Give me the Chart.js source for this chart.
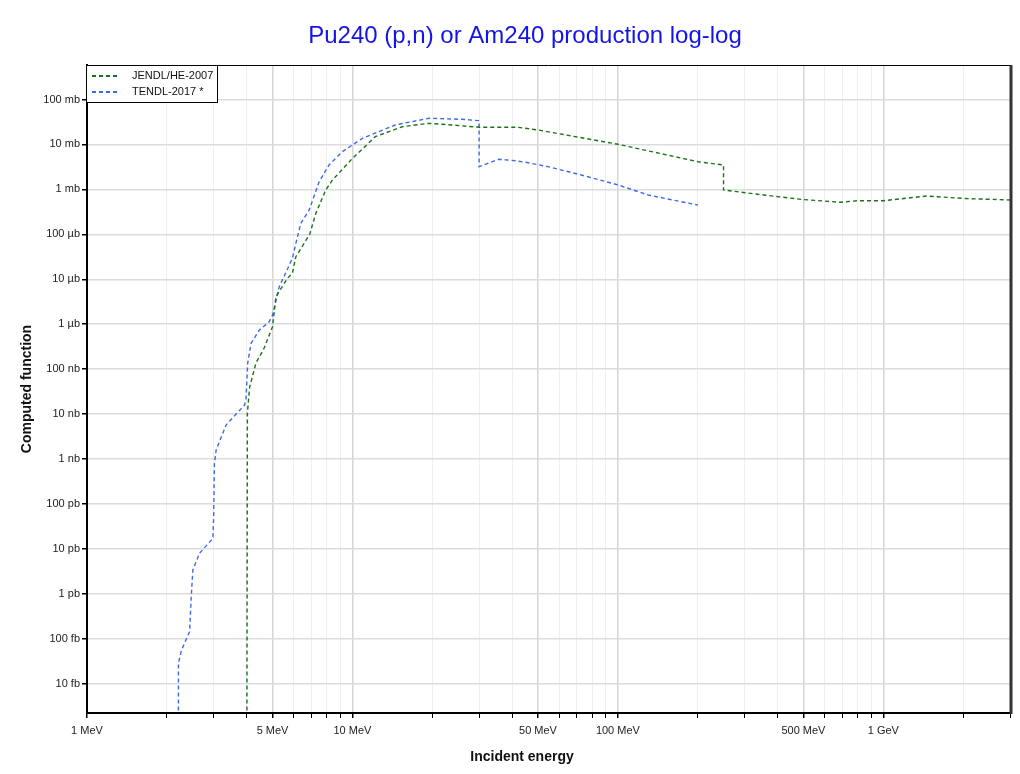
<!DOCTYPE html>
<html>
<head>
<meta charset="utf-8">
<script src="https://cdn.jsdelivr.net/npm/chart.js@4.4.1/dist/chart.umd.min.js"></script>
<style>
  html, body { margin: 0; padding: 0; background: #fff; }
  #chart { display: block; }
</style>
</head>
<body>
<canvas id="chart" width="1020" height="774"></canvas>
<script>
// energies in MeV, cross sections in mb
const jendlEnergy = [4.0, 4.02, 4.1, 4.33, 4.65, 5.0, 5.15, 5.69, 5.94, 6.12, 6.9, 7.28, 7.93, 8.4, 10, 12.2, 15.4, 19.4, 23.7, 30, 42, 50, 100, 200, 250, 250, 355, 490, 690, 800, 1000, 1450, 2000, 3000];
const jendlXs = [1e-13, 1.06e-5, 4.0e-5, 1.37e-4, 2.95e-4, 8.8e-4, 4.1e-3, 0.0105, 0.0136, 0.0318, 0.1, 0.294, 0.97, 1.6, 4.9, 14.9, 24.8, 29.5, 27.1, 24.1, 24.1, 21, 10.1, 4.13, 3.49, 0.97, 0.75, 0.60, 0.516, 0.56, 0.56, 0.71, 0.63, 0.58];

const tendlEnergy = [2.21, 2.21, 2.27, 2.435, 2.47, 2.505, 2.655, 2.98, 3.0, 3.02, 3.066, 3.34, 3.92, 3.97, 4.03, 4.15, 4.46, 4.86, 5.0, 5.3, 5.94, 6.12, 6.39, 6.87, 7.49, 8.16, 9.16, 10.9, 14.5, 19.4, 25.8, 30, 30, 35.5, 41, 45.9, 54.6, 72.8, 100, 130, 200];
const tendlXs = [1e-13, 2.85e-11, 5.6e-11, 1.44e-10, 8.6e-10, 3.4e-9, 8.0e-9, 1.72e-8, 5.2e-8, 8.0e-7, 1.59e-6, 5.7e-6, 1.59e-5, 2.06e-5, 1.35e-4, 3.76e-4, 7.4e-4, 1.14e-3, 1.6e-3, 6.8e-3, 0.0292, 0.063, 0.176, 0.348, 1.48, 3.49, 6.9, 13.7, 27.1, 38.2, 36.3, 33.8, 3.2, 4.67, 4.35, 3.92, 3.2, 2.09, 1.26, 0.75, 0.449];

const xTickValues = [1, 5, 10, 50, 100, 500, 1000];
const xTickLabels = ['1 MeV', '5 MeV', '10 MeV', '50 MeV', '100 MeV', '500 MeV', '1 GeV'];
const yTickValues = [1e-11, 1e-10, 1e-9, 1e-8, 1e-7, 1e-6, 1e-5, 1e-4, 1e-3, 1e-2, 1e-1, 1, 10, 100];
const yTickLabels = ['10 fb', '100 fb', '1 pb', '10 pb', '100 pb', '1 nb', '10 nb', '100 nb', '1 µb', '10 µb', '100 µb', '1 mb', '10 mb', '100 mb'];

const chartTitle = 'Pu240 (p,n) or Am240 production log-log';
const xTitle = 'Incident energy';
const yTitle = 'Computed function';

const FONT = 'Liberation Sans, Arial, sans-serif';
const toPoints = (xs, ys) => xs.map((x, i) => ({x: x, y: ys[i]}));

function isLabelled(v) {
    return xTickValues.some(t => Math.abs(t - v) / t < 1e-6);
}

// titles, black top edge, thick dark right edge, legend box in the top left corner
const frame = {
    id: 'frame',
    afterDraw(chart) {
        const {ctx, chartArea: {left, top, right, bottom}} = chart;
        ctx.save();
        ctx.textAlign = 'center';
        ctx.textBaseline = 'middle';
        ctx.fillStyle = '#1414e6';
        ctx.font = '24px ' + FONT;
        ctx.fillText(chartTitle, 525, 36);
        ctx.fillStyle = '#111';
        ctx.font = 'bold 14px ' + FONT;
        ctx.fillText(xTitle, 522, 757);

        ctx.strokeStyle = '#000';
        ctx.lineWidth = 1;
        ctx.beginPath();
        ctx.moveTo(left, top + 0.5);
        ctx.lineTo(right, top + 0.5);
        ctx.stroke();
        ctx.strokeStyle = '#333';
        ctx.lineWidth = 3;
        ctx.beginPath();
        ctx.moveTo(right + 1, top);
        ctx.lineTo(right + 1, bottom + 1);
        ctx.stroke();

        // legend
        const bx = left - 0.5, by = top + 0.5, bw = 131, bh = 37;
        ctx.fillStyle = '#fff';
        ctx.fillRect(bx, by, bw, bh);
        ctx.strokeStyle = '#000';
        ctx.lineWidth = 1;
        ctx.strokeRect(bx, by, bw, bh);
        ctx.font = '11px ' + FONT;
        ctx.textAlign = 'left';
        chart.data.datasets.forEach((ds, i) => {
            const yy = top + 11 + i * 16;
            ctx.strokeStyle = ds.borderColor;
            ctx.lineWidth = 2;
            ctx.setLineDash([4, 3]);
            ctx.beginPath();
            ctx.moveTo(left + 5, yy);
            ctx.lineTo(left + 32, yy);
            ctx.stroke();
            ctx.setLineDash([]);
            ctx.fillStyle = '#111';
            ctx.fillText(ds.label, left + 45, yy);
        });
        ctx.restore();
    }
};

const ctx = document.getElementById('chart').getContext('2d');
new Chart(ctx, {
    type: 'scatter',
    data: {
        datasets: [
            {
                label: 'JENDL/HE-2007',
                data: toPoints(jendlEnergy, jendlXs),
                showLine: true,
                borderColor: '#1a721a',
                backgroundColor: 'transparent',
                borderWidth: 1.4,
                borderDash: [4, 3],
                pointRadius: 0,
                tension: 0
            },
            {
                label: 'TENDL-2017 *',
                data: toPoints(tendlEnergy, tendlXs),
                showLine: true,
                borderColor: '#3f6ae6',
                backgroundColor: 'transparent',
                borderWidth: 1.4,
                borderDash: [4, 3],
                pointRadius: 0,
                tension: 0
            }
        ]
    },
    options: {
        responsive: false,
        animation: false,
        layout: {padding: {left: 0, right: 10, top: 65, bottom: 0}},
        scales: {
            x: {
                type: 'logarithmic',
                min: 1,
                max: 3000,
                afterFit(scale) { scale.height = 61; },
                afterBuildTicks(scale) {
                    const t = [];
                    for (let d = 1; d <= 1000; d *= 10) {
                        for (let m = 1; m <= 9; m++) {
                            if (m * d <= 3000) t.push({value: m * d});
                        }
                    }
                    scale.ticks = t;
                },
                border: {display: true, color: '#000', width: 2},
                grid: {
                    drawTicks: true,
                    tickLength: 5,
                    tickColor: '#000',
                    color: c => isLabelled(c.tick.value) ? '#d6d6d6' : '#efefef',
                    lineWidth: c => isLabelled(c.tick.value) ? 1.5 : 1
                },
                ticks: {
                    autoSkip: false,
                    maxRotation: 0,
                    padding: 6,
                    color: '#222',
                    font: {family: FONT, size: 11},
                    callback: v => {
                        const i = xTickValues.findIndex(t => Math.abs(t - v) / t < 1e-6);
                        return i >= 0 ? xTickLabels[i] : '';
                    }
                }
            },
            y: {
                type: 'logarithmic',
                min: 2.23e-12,
                max: 586,
                afterFit(scale) { scale.width = 87; },
                afterBuildTicks(scale) {
                    scale.ticks = yTickValues.map(v => ({value: v}));
                },
                border: {display: true, color: '#000', width: 2},
                grid: {
                    drawTicks: true,
                    tickLength: 5,
                    tickColor: '#000',
                    color: '#dcdcdc',
                    lineWidth: 1.5
                },
                ticks: {
                    autoSkip: false,
                    padding: 2,
                    color: '#222',
                    font: {family: FONT, size: 11},
                    callback: v => {
                        const i = yTickValues.findIndex(t => Math.abs(t - v) / t < 1e-6);
                        return i >= 0 ? yTickLabels[i] : '';
                    }
                },
                title: {
                    display: true,
                    text: yTitle,
                    color: '#111',
                    font: {family: FONT, size: 14, weight: 'bold'},
                    padding: {top: 19, bottom: 0}
                }
            }
        },
        plugins: {
            title: {display: false},
            legend: {display: false},
            tooltip: {enabled: false}
        }
    },
    plugins: [frame]
});
</script>
</body>
</html>
